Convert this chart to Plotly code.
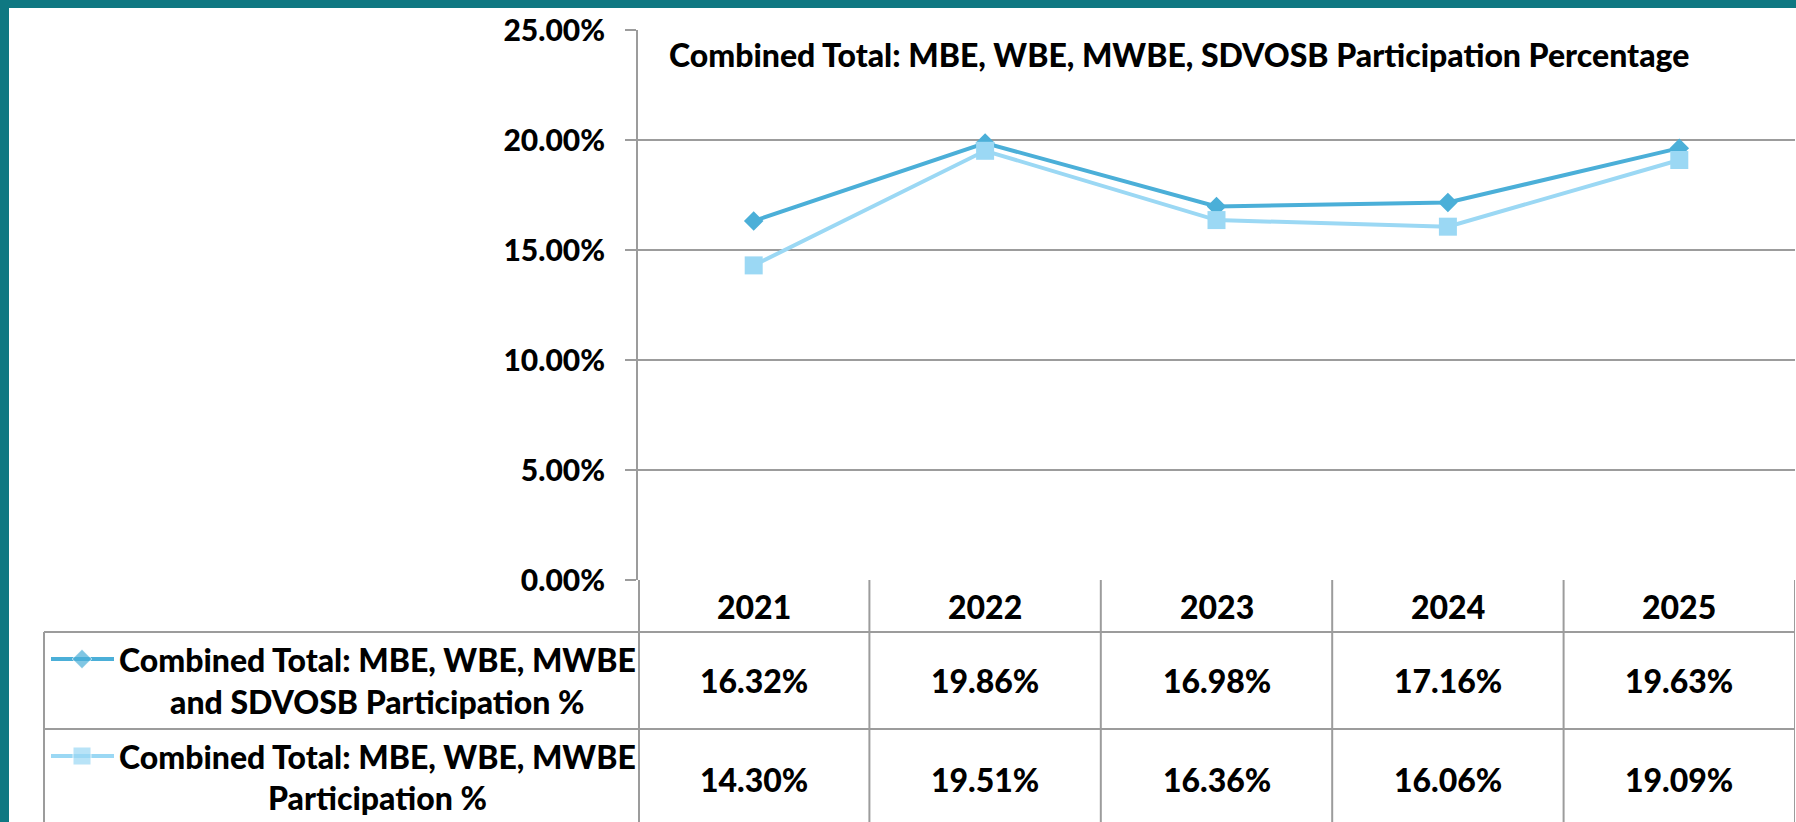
import plotly.graph_objects as go

# ---- data ----
years = ["2021", "2022", "2023", "2024", "2025"]
series_names = [
    "Combined Total: MBE, WBE, MWBE\nand SDVOSB Participation %",
    "Combined Total: MBE, WBE, MWBE\nParticipation %",
]
combined_sdvosb = [0.1632, 0.1986, 0.1698, 0.1716, 0.1963]
combined_mwbe = [0.1430, 0.1951, 0.1636, 0.1606, 0.1909]
series_values = [combined_sdvosb, combined_mwbe]
chart_title = "Combined Total: MBE, WBE, MWBE, SDVOSB Participation Percentage"
y_ticks = [0, 0.05, 0.10, 0.15, 0.20, 0.25]

# ---- style ----
W, H = 1796, 822
FONT = "Lato"
FS = 32
TFS = 30
WEIGHT = 900
colors = ["#4BAFD8", "#9BD8F4"]
symbols = ["diamond", "square"]
msizes = [15, 18]
grid = "#9C9C9C"
teal = "#0F7882"

def px(x):
    return x / W

def py(y):
    return 1 - y / H

plot_left, plot_right = 638, 1795
plot_top, plot_bottom = 30, 580
row_lines = [632, 729]
row_centers = [680, 779]

fig = go.Figure()

for name, vals, c, s, ms in zip(series_names, series_values, colors, symbols, msizes):
    fig.add_trace(go.Scatter(
        x=list(range(len(years))), y=vals, mode="lines+markers", name=name.replace("\n", " "),
        line=dict(color=c, width=4), marker=dict(symbol=s, size=ms, color=c),
        xaxis="x", yaxis="y", showlegend=False, hoverinfo="skip"))

# legend keys in the data table (pixel overlay axis)
for i, (c, s, ms) in enumerate(zip(colors, symbols, msizes)):
    yk = [659, 756][i]
    fig.add_trace(go.Scatter(
        x=[51, 82, 114], y=[yk, yk, yk], mode="lines+markers",
        line=dict(color=c, width=4),
        marker=dict(symbol=s, size=[0, ms, 0], color=c),
        xaxis="x2", yaxis="y2", showlegend=False, hoverinfo="skip"))

shapes = []
# teal frame
shapes.append(dict(type="rect", xref="paper", yref="paper", x0=0, x1=px(9), y0=0, y1=1,
                   fillcolor=teal, line=dict(width=0), layer="above"))
shapes.append(dict(type="rect", xref="paper", yref="paper", x0=0, x1=1, y0=py(8), y1=1,
                   fillcolor=teal, line=dict(width=0), layer="above"))
# y-axis extension down through the table
shapes.append(dict(type="line", xref="paper", yref="paper", x0=px(639), x1=px(639),
                   y0=py(plot_bottom), y1=0, line=dict(color=grid, width=2)))
# legend column left border
shapes.append(dict(type="line", xref="paper", yref="paper", x0=px(44), x1=px(44),
                   y0=py(row_lines[0]), y1=0, line=dict(color=grid, width=2)))
# horizontal table lines
for yl in row_lines:
    shapes.append(dict(type="line", xref="paper", yref="paper", x0=px(44), x1=px(plot_right),
                       y0=py(yl), y1=py(yl), line=dict(color=grid, width=2)))
# column dividers
for i in range(len(years)):
    shapes.append(dict(type="line", xref="x", yref="paper", x0=i + 0.5, x1=i + 0.5,
                       y0=py(plot_bottom), y1=0, line=dict(color=grid, width=2)))

def bold_font(size):
    return dict(family=FONT, size=size, color="black", weight=WEIGHT)

annotations = []
annotations.append(dict(text=chart_title, xref="paper", yref="paper", x=px(667), y=py(55),
                        xanchor="left", yanchor="middle", showarrow=False, font=bold_font(FS)))
# year header
for i, yr in enumerate(years):
    annotations.append(dict(text=yr, xref="x", yref="paper", x=i, y=py(606),
                            xanchor="center", yanchor="middle", showarrow=False,
                            font=bold_font(FS)))
# values
for vals, yc in zip(series_values, row_centers):
    for i, v in enumerate(vals):
        annotations.append(dict(text=f"{v * 100:.2f}%", xref="x", yref="paper", x=i, y=py(yc),
                                xanchor="center", yanchor="middle", showarrow=False,
                                font=bold_font(FS)))
# legend labels
label_lines_y = [[659, 701], [756, 797]]
for name, ys in zip(series_names, label_lines_y):
    for line, yy in zip(name.split("\n"), ys):
        annotations.append(dict(text=line, xref="paper", yref="paper", x=px(377), y=py(yy),
                                xanchor="center", yanchor="middle", showarrow=False,
                                font=bold_font(FS)))

fig.update_layout(
    width=W, height=H, autosize=False,
    margin=dict(l=0, r=0, t=0, b=0, pad=0, autoexpand=False),
    paper_bgcolor="white", plot_bgcolor="rgba(0,0,0,0)",
    xaxis=dict(domain=[px(plot_left), px(plot_right)], type="linear", automargin=False,
               range=[-0.5, len(years) - 0.5], showticklabels=False, showgrid=False,
               zeroline=False, showline=False, ticks="", anchor="y", fixedrange=True),
    yaxis=dict(domain=[py(plot_bottom), py(plot_top)], range=[0, 0.25], automargin=False,
               tickvals=y_ticks, tickformat=".2%", showgrid=True, gridcolor=grid, gridwidth=2,
               zeroline=False, showline=True, linecolor=grid, linewidth=2,
               ticks="outside", ticklen=11, tickcolor=grid, tickwidth=2,
               ticklabelstandoff=14,
               tickfont=bold_font(TFS),
               anchor="x", fixedrange=True),
    xaxis2=dict(domain=[0, 1], range=[0, W], visible=False, anchor="y2", fixedrange=True,
                automargin=False),
    yaxis2=dict(domain=[0, 1], range=[H, 0], visible=False, anchor="x2", fixedrange=True,
                automargin=False),
    shapes=shapes, annotations=annotations,
)

fig.write_html(
    "out.html",
    config={"displayModeBar": False, "responsive": False},
    post_script=(
        "document.documentElement.style.margin='0';"
        "document.documentElement.style.overflow='hidden';"
        "document.body.style.margin='0';document.body.style.overflow='hidden';"
        "var gd=document.getElementById('{plot_id}');"
        "gd.style.position='fixed';gd.style.left='0px';gd.style.top='0px';"
    ),
)
